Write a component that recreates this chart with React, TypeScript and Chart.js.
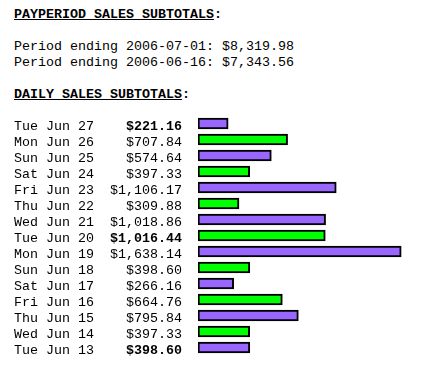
import React, { useEffect, useRef } from "react";
import { Chart, registerables } from "chart.js";

Chart.register(...registerables);

const periodEnds = ["2006-07-01", "2006-06-16"];
const periodTotals = [8319.98, 7343.56];

const days = [
  "Tue Jun 27", "Mon Jun 26", "Sun Jun 25", "Sat Jun 24", "Fri Jun 23",
  "Thu Jun 22", "Wed Jun 21", "Tue Jun 20", "Mon Jun 19", "Sun Jun 18",
  "Sat Jun 17", "Fri Jun 16", "Thu Jun 15", "Wed Jun 14", "Tue Jun 13",
];
const dailySales = [
  221.16, 707.84, 574.64, 397.33, 1106.17,
  309.88, 1018.86, 1016.44, 1638.14, 398.6,
  266.16, 664.76, 795.84, 397.33, 398.6,
];
const boldDays = ["Tue Jun 27", "Tue Jun 20", "Tue Jun 13"];

const FONT = "'Liberation Mono', 'Courier New', monospace";
const money = (v: number) =>
  "$" + v.toLocaleString("en-US", { minimumFractionDigits: 2, maximumFractionDigits: 2 });

export default function App() {
  const ref = useRef<HTMLCanvasElement | null>(null);

  useEffect(() => {
    if (!ref.current) return;
    const amountLabels = dailySales.map(money);
    const tickFont = (ctx: any) => ({
      family: FONT,
      size: 13.333,
      weight: boldDays.includes(days[ctx.index]) ? "bold" : "normal",
    });
    const axisGrid = { display: false, drawTicks: true, tickLength: 16 };
    const chart = new Chart(ref.current, {
      type: "bar",
      data: {
        labels: amountLabels,
        datasets: [
          {
            data: dailySales,
            xAxisID: "x",
            yAxisID: "y",
            base: -26,
            barThickness: 11,
            borderWidth: 2,
            borderColor: "#000000",
            borderSkipped: false,
            backgroundColor: (ctx: any) => (ctx.dataIndex % 2 ? "#00ff00" : "#9966ff"),
          } as any,
        ],
      },
      options: {
        indexAxis: "y",
        animation: false,
        responsive: false,
        events: [],
        layout: { padding: { left: 14, right: 6, top: 15.5, bottom: 8.5 } },
        plugins: { legend: { display: false }, tooltip: { enabled: false } },
        scales: {
          x: { type: "linear", display: false, min: -26, max: 1800 },
          y: {
            type: "category",
            position: "left",
            weight: 0,
            offset: true,
            grid: axisGrid,
            border: { display: false },
            ticks: {
              autoSkip: false,
              crossAlign: "near",
              padding: 0,
              labelOffset: 3,
              color: "#000000",
              font: tickFont as any,
            },
          },
          yDate: {
            type: "category",
            labels: days,
            position: "left",
            weight: 1,
            offset: true,
            grid: axisGrid,
            border: { display: false },
            ticks: {
              autoSkip: false,
              crossAlign: "far",
              padding: 0,
              labelOffset: 3,
              color: "#000000",
              font: { family: FONT, size: 13.333 },
            },
          },
        } as any,
      },
    });
    return () => chart.destroy();
  }, []);

  const text: React.CSSProperties = {
    position: "absolute",
    left: 14,
    fontFamily: FONT,
    fontSize: "13.333px",
    lineHeight: "16px",
    whiteSpace: "pre",
    color: "#000",
    margin: 0,
  };

  return (
    <div style={{ position: "absolute", left: 0, top: 0, width: 427, height: 370, background: "#fff" }}>
      <div style={{ ...text, top: 6.5, fontWeight: "bold" }}>
        <span style={{ textDecoration: "underline" }}>PAYPERIOD SALES SUBTOTALS</span>:
      </div>
      <div style={{ ...text, top: 38.5 }}>
        {periodEnds.map((d, i) => (
          <div key={d}>{`Period ending ${d}: ${money(periodTotals[i])}`}</div>
        ))}
      </div>
      <div style={{ ...text, top: 86.5, fontWeight: "bold" }}>
        <span style={{ textDecoration: "underline" }}>DAILY SALES SUBTOTALS</span>:
      </div>
      <canvas
        ref={ref}
        width={427}
        height={264}
        style={{ position: "absolute", left: 0, top: 100, width: 427, height: 264 }}
      />
    </div>
  );
}
